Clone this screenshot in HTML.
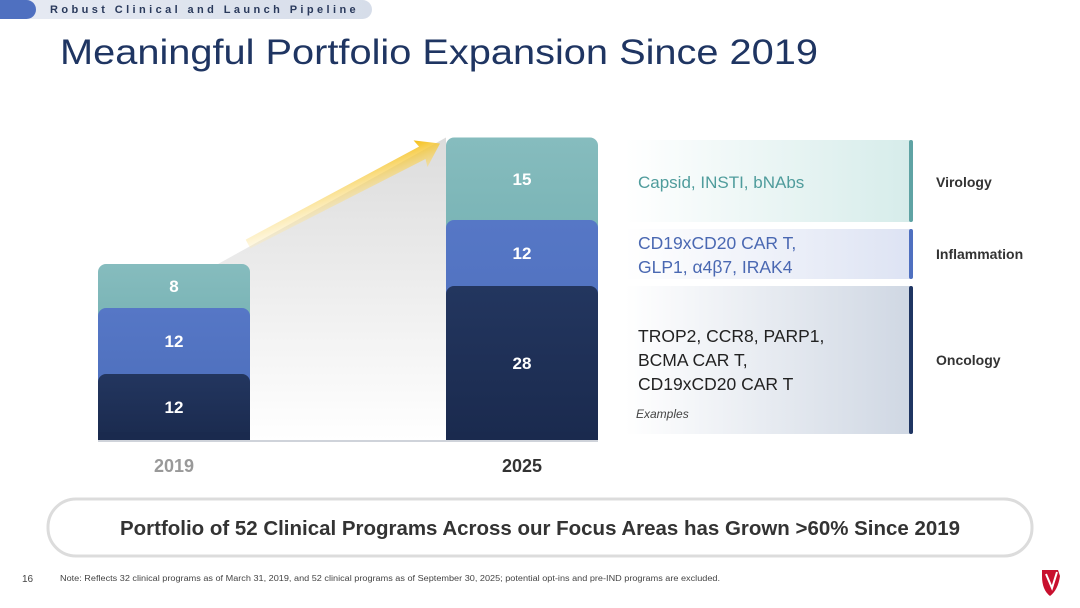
<!DOCTYPE html>
<html><head><meta charset="utf-8"><style>
body{margin:0;background:#fff;font-family:"Liberation Sans",sans-serif}
svg{display:block}
</style></head><body>
<svg width="1080" height="608" viewBox="0 0 1080 608" xmlns="http://www.w3.org/2000/svg" font-family="Liberation Sans, sans-serif">
<defs>
<linearGradient id="tealG" x1="0" y1="0" x2="0" y2="1"><stop offset="0" stop-color="#86bcbe"/><stop offset="1" stop-color="#5fa3a4"/></linearGradient>
<linearGradient id="blueG" x1="0" y1="0" x2="0" y2="1"><stop offset="0" stop-color="#5677c6"/><stop offset="1" stop-color="#4a6cb8"/></linearGradient>
<linearGradient id="navyG" x1="0" y1="0" x2="0" y2="1"><stop offset="0" stop-color="#23365f"/><stop offset="1" stop-color="#1a2a4e"/></linearGradient>
<linearGradient id="shadeG" x1="0" y1="0" x2="0" y2="1"><stop offset="0" stop-color="#dcdcdc"/><stop offset="1" stop-color="#ffffff"/></linearGradient>
<linearGradient id="arrowG" x1="0" y1="1" x2="1" y2="0"><stop offset="0" stop-color="#fff6d8" stop-opacity="0.2"/><stop offset="1" stop-color="#f3b800"/></linearGradient>
<linearGradient id="boxV" x1="0" y1="0" x2="1" y2="0"><stop offset="0" stop-color="#ffffff"/><stop offset="1" stop-color="#d6ecea"/></linearGradient>
<linearGradient id="boxI" x1="0" y1="0" x2="1" y2="0"><stop offset="0" stop-color="#ffffff"/><stop offset="1" stop-color="#dde3f3"/></linearGradient>
<linearGradient id="boxO" x1="0" y1="0" x2="1" y2="0"><stop offset="0" stop-color="#ffffff"/><stop offset="1" stop-color="#cfd7e3"/></linearGradient>
<linearGradient id="hdrG" x1="0" y1="0" x2="1" y2="0"><stop offset="0" stop-color="#e6eaf3"/><stop offset="1" stop-color="#d6dde9"/></linearGradient>
</defs>

<!-- header -->
<rect x="20" y="0" width="352" height="19" rx="9.5" fill="url(#hdrG)"/>
<rect x="-10" y="0" width="46" height="19" rx="9.5" fill="#4f70c0"/>
<text x="50" y="13" font-size="11" font-weight="bold" fill="#2a3a5c" letter-spacing="3.4">Robust Clinical and Launch Pipeline</text>
<text x="60" y="64" font-size="35" fill="#1f3562" textLength="758" lengthAdjust="spacingAndGlyphs">Meaningful Portfolio Expansion Since 2019</text>

<g id="chart"></g>

<!-- right panel -->
<rect x="625" y="140" width="287" height="82" fill="url(#boxV)"/>
<rect x="909" y="140" width="4" height="82" rx="2" fill="#5fa3a4"/>
<rect x="625" y="229" width="287" height="50" fill="url(#boxI)"/>
<rect x="909" y="229" width="4" height="50" rx="2" fill="#4f70c0"/>
<rect x="625" y="286" width="287" height="148" fill="url(#boxO)"/>
<rect x="909" y="286" width="4" height="148" rx="2" fill="#1f3562"/>
<text x="638" y="188" font-size="17" fill="#4f9c9c">Capsid, INSTI, bNAbs</text>
<text font-size="17.5" fill="#4a68b2"><tspan x="638" y="249">CD19xCD20 CAR T,</tspan><tspan x="638" y="273">GLP1, α4β7, IRAK4</tspan></text>
<text font-size="17.5" fill="#222"><tspan x="638" y="342">TROP2, CCR8, PARP1,</tspan><tspan x="638" y="366">BCMA CAR T,</tspan><tspan x="638" y="390">CD19xCD20 CAR T</tspan></text>
<text x="636" y="418" font-size="12" font-style="italic" fill="#444">Examples</text>
<text x="936" y="187" font-size="14" font-weight="bold" fill="#333">Virology</text>
<text x="936" y="259" font-size="14" font-weight="bold" fill="#333">Inflammation</text>
<text x="936" y="365" font-size="14" font-weight="bold" fill="#333">Oncology</text>

<!-- bottom pill -->
<rect x="48" y="499" width="984" height="57" rx="28" fill="#fff" stroke="#dcdcdc" stroke-width="3"/>
<text x="540" y="535" font-size="20" font-weight="bold" fill="#333" text-anchor="middle" textLength="840" lengthAdjust="spacingAndGlyphs">Portfolio of 52 Clinical Programs Across our Focus Areas has Grown &gt;60% Since 2019</text>

<text x="22" y="582" font-size="10" fill="#444">16</text>
<text x="60" y="581" font-size="8" fill="#444" textLength="660" lengthAdjust="spacingAndGlyphs">Note: Reflects 32 clinical programs as of March 31, 2019, and 52 clinical programs as of September 30, 2025; potential opt-ins and pre-IND programs are excluded.</text>
<g><path d="M1042 570 L1058 570 L1060 576 Q1058 590 1050 596 Q1042 590 1042 576 Z" fill="#c8102e"/><path d="M1046 574 L1052 588 L1057 572" fill="none" stroke="#fff" stroke-width="2"/></g>
</svg>
<script>
const categories = ["2019", "2025"];
const oncology = [12, 28];
const inflammation = [12, 12];
const virology = [8, 15];

const NS = "http://www.w3.org/2000/svg";
const g = document.getElementById("chart");
const baseY = 440, unit = 5.5, barW = 152;
const xPos = i => 98 + i * 348;
const yVal = v => baseY - v * unit;
function mk(tag, attrs) { const e = document.createElementNS(NS, tag); for (const k in attrs) e.setAttribute(k, attrs[k]); return e; }

const tot0 = oncology[0] + inflammation[0] + virology[0];
const tot1 = oncology[1] + inflammation[1] + virology[1];
const wedge = mk("path", { d: `M${xPos(0) + 120} ${yVal(tot0)} L${xPos(1)} ${yVal(tot1)} L${xPos(1)} ${baseY} L${xPos(0) + barW} ${baseY} Z`, fill: "url(#shadeG)" });


g.appendChild(wedge);
const ax0 = xPos(0) + 150, ay0 = yVal(tot0) - 20, ax1 = xPos(1) - 6, ay1 = yVal(tot1) + 6;
const ang = Math.atan2(ay1 - ay0, ax1 - ax0);
const arrow = mk("g", { transform: `translate(${ax1},${ay1}) rotate(${ang * 180 / Math.PI})` });
const len = Math.hypot(ax1 - ax0, ay1 - ay0);
arrow.appendChild(mk("path", { d: `M${-len} -5 L-20 -7 L-22 -15 L0 0 L-22 15 L-20 7 L${-len} 5 Z`, fill: "url(#arrowG)" }));


g.appendChild(arrow);

const series = [
  { name: "virology", vals: virology, fill: "url(#tealG)" },
  { name: "inflammation", vals: inflammation, fill: "url(#blueG)" },
  { name: "oncology", vals: oncology, fill: "url(#navyG)" }
];
categories.forEach((cat, i) => {
  const o = oncology[i], inf = inflammation[i], v = virology[i];
  const bounds = { oncology: [0, o], inflammation: [o, o + inf], virology: [o + inf, o + inf + v] };
  series.forEach(s => {
    const [lo, hi] = bounds[s.name];
    const top = yVal(hi), bot = yVal(lo);
    const r = mk("rect", { x: xPos(i), y: top, width: barW, height: baseY - top, rx: 8, fill: s.fill });
    
    
    g.appendChild(r);
    const t = mk("text", { x: xPos(i) + barW / 2, y: (top + bot) / 2 + 6, "font-size": 17, "font-weight": "bold", fill: "#fff", "text-anchor": "middle" });
    t.textContent = s.vals[i];
    
    
    g.appendChild(t);
  });
  const c = mk("rect", { x: xPos(i), y: baseY - 8, width: barW, height: 8, fill: "#1a2a4e" });
  g.appendChild(c);
  const lbl = mk("text", { x: xPos(i) + barW / 2, y: 472, "font-size": 18, "font-weight": "bold", fill: i === 0 ? "#999" : "#333", "text-anchor": "middle" });
  lbl.textContent = cat;
  
  
  g.appendChild(lbl);
});
const axis = mk("rect", { x: xPos(0), y: baseY, width: xPos(1) + barW - xPos(0), height: 2, fill: "#cfd3da" });


g.appendChild(axis);
</script>
</body></html>
